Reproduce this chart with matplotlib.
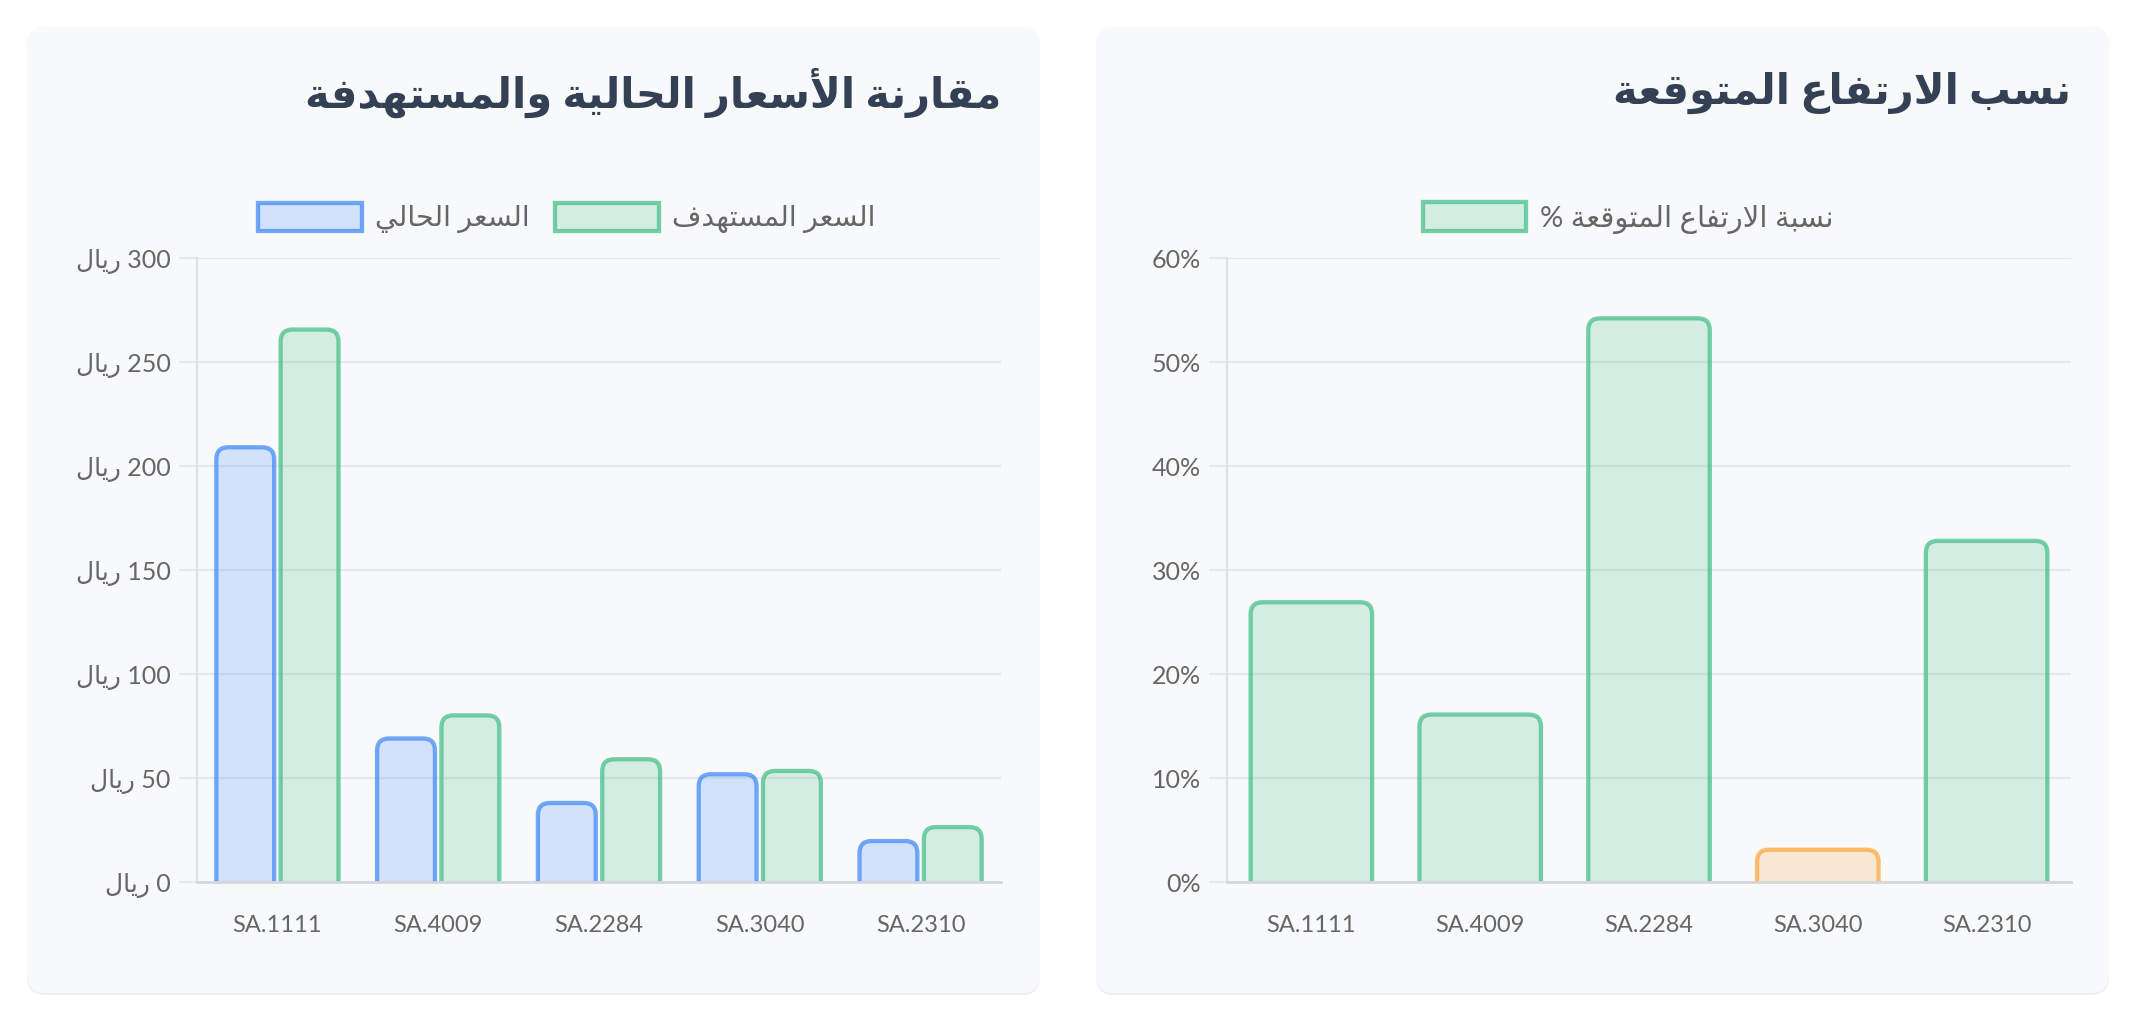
import numpy as np
import matplotlib.pyplot as plt
from matplotlib.patches import FancyBboxPatch, Patch
from matplotlib.ticker import MultipleLocator, FuncFormatter

W, H = 2136, 1026

# data
tickers = ["SA.1111", "SA.4009", "SA.2284", "SA.3040", "SA.2310"]
current_price = [209, 69, 38, 51.8, 19.7]
target_price = [265.6, 80.1, 59, 53.4, 26.4]
upside_pct = [26.9, 16.1, 54.2, 3.1, 32.8]

title_prices = "مقارنة الأسعار الحالية والمستهدفة"
title_upside = "نسب الارتفاع المتوقعة"
label_current = "السعر الحالي"
label_target = "السعر المستهدف"
label_upside = "نسبة الارتفاع المتوقعة"
currency = "ريال"

# --- minimal arabic shaping (matplotlib has no shaping / bidi) ---
# isolated, final, initial, medial
FORMS = {
    "ا": ("\uFE8D", "\uFE8E", None, None),
    "أ": ("\uFE83", "\uFE84", None, None),
    "ب": ("\uFE8F", "\uFE90", "\uFE91", "\uFE92"),
    "ة": ("\uFE93", "\uFE94", None, None),
    "ت": ("\uFE95", "\uFE96", "\uFE97", "\uFE98"),
    "ح": ("\uFEA1", "\uFEA2", "\uFEA3", "\uFEA4"),
    "د": ("\uFEA9", "\uFEAA", None, None),
    "ر": ("\uFEAD", "\uFEAE", None, None),
    "س": ("\uFEB1", "\uFEB2", "\uFEB3", "\uFEB4"),
    "ع": ("\uFEC9", "\uFECA", "\uFECB", "\uFECC"),
    "ف": ("\uFED1", "\uFED2", "\uFED3", "\uFED4"),
    "ق": ("\uFED5", "\uFED6", "\uFED7", "\uFED8"),
    "ل": ("\uFEDD", "\uFEDE", "\uFEDF", "\uFEE0"),
    "م": ("\uFEE1", "\uFEE2", "\uFEE3", "\uFEE4"),
    "ن": ("\uFEE5", "\uFEE6", "\uFEE7", "\uFEE8"),
    "ه": ("\uFEE9", "\uFEEA", "\uFEEB", "\uFEEC"),
    "و": ("\uFEED", "\uFEEE", None, None),
    "ي": ("\uFEF1", "\uFEF2", "\uFEF3", "\uFEF4"),
}
LAMALEF = {"ا": ("\uFEFB", "\uFEFC"), "أ": ("\uFEF7", "\uFEF8")}


def shape(text):
    out = []
    i = 0
    while i < len(text):
        c = text[i]
        if c not in FORMS:
            out.append(c)
            i += 1
            continue
        prev = text[i - 1] if i > 0 else None
        join_prev = prev in FORMS and FORMS[prev][2] is not None
        if c == "ل" and i + 1 < len(text) and text[i + 1] in LAMALEF:
            iso, fin = LAMALEF[text[i + 1]]
            out.append(fin if join_prev else iso)
            i += 2
            continue
        nxt = text[i + 1] if i + 1 < len(text) else None
        iso, fin, ini, med = FORMS[c]
        join_next = ini is not None and nxt in FORMS
        if join_prev and join_next:
            out.append(med)
        elif join_prev:
            out.append(fin)
        elif join_next:
            out.append(ini)
        else:
            out.append(iso)
        i += 1
    return "".join(out)


def ar(text):
    return shape(text)[::-1]


FONT = ["Lato", "DejaVu Sans"]
plt.rcParams["font.family"] = FONT

card_bg = "#f8f9fb"
grid_c = "#e7e8eb"
tick_c = "#666666"
title_c = "#344054"

blue = (58 / 255, 134 / 255, 246 / 255)
green = (63 / 255, 189 / 255, 131 / 255)
orange = (253 / 255, 164 / 255, 51 / 255)
edge_a, fill_a = 0.7, 0.2
bar_lw = 3.1

fig = plt.figure(figsize=(W / 100, H / 100), dpi=100)
fig.patch.set_facecolor("white")

# cards
bg = fig.add_axes([0, 0, 1, 1], zorder=-10)
bg.set_xlim(0, W)
bg.set_ylim(H, 0)
bg.axis("off")
for x0, x1 in [(27, 1040), (1096, 2109)]:
    bg.add_patch(FancyBboxPatch((x0, 29), x1 - x0, 966,
                                boxstyle="round,pad=0,rounding_size=18",
                                fc="#eef0f3", ec="none"))
    bg.add_patch(FancyBboxPatch((x0, 27), x1 - x0, 966,
                                boxstyle="round,pad=0,rounding_size=18",
                                fc=card_bg, ec="none"))


def rounded_bars(ax, bars, colors):
    # swap the plain bars for ones with rounded top corners
    tr = ax.transData
    x_px = tr.transform((1, 0))[0] - tr.transform((0, 0))[0]
    y_px = tr.transform((0, 1))[1] - tr.transform((0, 0))[1]
    r = 12 / x_px
    ymin = ax.get_ylim()[0]
    pad = 30 / y_px
    for rect, col in zip(bars, colors):
        x, w, h = rect.get_x(), rect.get_width(), rect.get_height()
        ax.add_patch(FancyBboxPatch((x, ymin - pad), w, h + pad,
                                    boxstyle=f"round,pad=0,rounding_size={r}",
                                    mutation_aspect=x_px / y_px,
                                    fc=(*col, fill_a), ec=(*col, edge_a),
                                    lw=bar_lw, zorder=2))
        rect.remove()


def style_axes(ax, fmt, step, top):
    ax.set_facecolor("none")
    ax.set_ylim(0, top)
    ax.set_xlim(-0.5, len(tickers) - 0.5)
    ax.set_xticks(np.arange(len(tickers)))
    ax.set_xticklabels(tickers)
    ax.yaxis.set_major_locator(MultipleLocator(step))
    ax.yaxis.set_major_formatter(FuncFormatter(fmt))
    ax.grid(axis="y", color=grid_c, lw=1.6)
    ax.set_axisbelow(True)
    for s in ["top", "right"]:
        ax.spines[s].set_visible(False)
    ax.spines["left"].set_color("#dedfe2")
    ax.spines["left"].set_linewidth(1.6)
    ax.spines["bottom"].set_color("#d6d7da")
    ax.spines["bottom"].set_linewidth(2)
    ax.spines["bottom"].set_zorder(3)
    ax.tick_params(axis="y", length=13, width=1.6, color=grid_c, pad=6,
                   labelsize=18, labelcolor=tick_c)
    ax.tick_params(axis="x", length=0, pad=24, labelsize=17, labelcolor=tick_c)


x = np.arange(len(tickers))
title_y = (882 - 93) / 624

# left: price comparison
ax1 = fig.add_axes([197 / W, 1 - 882 / H, 804 / W, 624 / H])
style_axes(ax1, lambda v, p: f"{ar(currency)} {v:.0f}", 50, 300)
b_cur = ax1.bar(x - 0.2, current_price, width=0.36)
b_tgt = ax1.bar(x + 0.2, target_price, width=0.36)
rounded_bars(ax1, b_cur, [blue] * len(x))
rounded_bars(ax1, b_tgt, [green] * len(x))

ax1.text(1.0, title_y, ar(title_prices), transform=ax1.transAxes,
         ha="right", va="center", fontsize=30, fontweight="bold", color=title_c)

fig.legend(
    handles=[Patch(fc=(*blue, fill_a), ec=(*blue, edge_a), lw=bar_lw, label=ar(label_current)),
             Patch(fc=(*green, fill_a), ec=(*green, edge_a), lw=bar_lw, label=ar(label_target))],
    loc="center", bbox_to_anchor=(567 / W, 1 - 218 / H), ncol=2, frameon=False,
    fontsize=20.5, handlelength=3.65, handleheight=1.15, handletextpad=0.45,
    columnspacing=0.9, labelcolor=tick_c)

# right: expected upside
ax2 = fig.add_axes([1227 / W, 1 - 882 / H, 844 / W, 624 / H])
style_axes(ax2, lambda v, p: f"{v:.0f}%", 10, 60)
b_up = ax2.bar(x, upside_pct, width=0.72)
rounded_bars(ax2, b_up, [orange if v < 5 else green for v in upside_pct])

ax2.text(1.0, title_y, ar(title_upside), transform=ax2.transAxes,
         ha="right", va="center", fontsize=30, fontweight="bold", color=title_c)

fig.legend(
    handles=[Patch(fc=(*green, fill_a), ec=(*green, edge_a), lw=bar_lw,
                   label="% " + ar(label_upside))],
    loc="center", bbox_to_anchor=(1628 / W, 1 - 218 / H), frameon=False,
    fontsize=21, handlelength=3.55, handleheight=1.15, handletextpad=0.45,
    labelcolor=tick_c)

fig.savefig("out.png", dpi=100, facecolor="white")
